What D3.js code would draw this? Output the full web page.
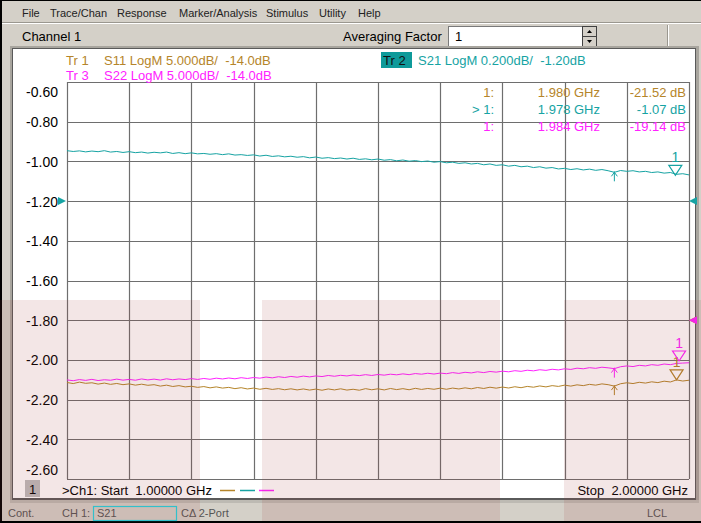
<!DOCTYPE html>
<html><head><meta charset="utf-8">
<script src="https://cdn.jsdelivr.net/npm/d3@7"></script>
<style>
body{margin:0;background:#d4d0c8;overflow:hidden}
text{font-family:"Liberation Sans",Arial,sans-serif;white-space:pre}
</style>
</head><body><svg id="c" width="701" height="523"></svg>
<script>
// ---- data ----
const sweepStart = 1.0, sweepStop = 2.0, sweepPoints = 101;   // GHz
const s21 = [-0.946,-0.950,-0.947,-0.952,-0.948,-0.951,-0.946,-0.953,-0.950,-0.955,
 -0.951,-0.956,-0.953,-0.958,-0.954,-0.957,-0.953,-0.960,-0.956,-0.961,
 -0.957,-0.962,-0.960,-0.964,-0.961,-0.966,-0.962,-0.968,-0.966,-0.970,
 -0.967,-0.973,-0.969,-0.975,-0.972,-0.977,-0.974,-0.979,-0.976,-0.982,
 -0.978,-0.984,-0.981,-0.986,-0.983,-0.988,-0.984,-0.990,-0.987,-0.992,
 -0.988,-0.994,-0.991,-0.997,-0.993,-0.999,-0.996,-1.001,-0.998,-1.004,
 -1.001,-1.007,-1.004,-1.010,-1.007,-1.013,-1.010,-1.017,-1.013,-1.020,
 -1.017,-1.024,-1.020,-1.027,-1.024,-1.031,-1.027,-1.034,-1.031,-1.038,
 -1.035,-1.041,-1.037,-1.043,-1.039,-1.045,-1.041,-1.047,-1.055,-1.046,
 -1.050,-1.047,-1.053,-1.050,-1.056,-1.053,-1.059,-1.056,-1.065,-1.062,-1.068];
const s11 = [-21.85,-21.98,-21.80,-21.95,-21.88,-22.05,-21.92,-22.08,-21.97,-22.12,
 -22.02,-22.18,-22.06,-22.20,-22.12,-22.30,-22.18,-22.35,-22.24,-22.40,
 -22.32,-22.46,-22.36,-22.52,-22.40,-22.55,-22.46,-22.62,-22.50,-22.66,
 -22.55,-22.70,-22.58,-22.72,-22.62,-22.76,-22.64,-22.78,-22.66,-22.80,
 -22.68,-22.82,-22.66,-22.78,-22.64,-22.80,-22.70,-22.82,-22.62,-22.76,
 -22.64,-22.78,-22.60,-22.74,-22.62,-22.76,-22.58,-22.72,-22.60,-22.70,
 -22.56,-22.70,-22.55,-22.66,-22.52,-22.64,-22.48,-22.60,-22.44,-22.56,
 -22.42,-22.54,-22.38,-22.50,-22.34,-22.44,-22.28,-22.40,-22.24,-22.34,
 -22.18,-22.30,-22.14,-22.24,-22.08,-22.18,-22.02,-22.12,-22.30,-22.00,
 -21.88,-21.98,-21.82,-21.92,-21.76,-21.86,-21.68,-21.78,-21.52,-21.66,-21.56];
const s22 = [-21.52,-21.62,-21.48,-21.58,-21.45,-21.60,-21.50,-21.56,-21.42,-21.55,
 -21.46,-21.56,-21.40,-21.52,-21.42,-21.54,-21.38,-21.50,-21.40,-21.48,
 -21.36,-21.46,-21.34,-21.44,-21.30,-21.40,-21.28,-21.38,-21.24,-21.34,
 -21.22,-21.30,-21.16,-21.26,-21.12,-21.22,-21.08,-21.18,-21.04,-21.14,
 -21.02,-21.10,-20.96,-21.06,-20.94,-21.02,-20.90,-20.98,-20.86,-20.96,
 -20.84,-20.92,-20.80,-20.88,-20.76,-20.86,-20.72,-20.80,-20.68,-20.78,
 -20.66,-20.74,-20.60,-20.70,-20.56,-20.64,-20.50,-20.60,-20.46,-20.54,
 -20.42,-20.50,-20.36,-20.44,-20.30,-20.38,-20.24,-20.32,-20.18,-20.26,
 -20.12,-20.20,-20.04,-20.12,-19.98,-20.06,-19.92,-20.00,-20.10,-19.86,
 -19.76,-19.84,-19.68,-19.76,-19.60,-19.68,-19.52,-19.60,-19.44,-19.40,-19.36];
const yTicks = [-0.60,-0.80,-1.00,-1.20,-1.40,-1.60,-1.80,-2.00,-2.20,-2.40,-2.60];
const yTickLabels = ["-0.60","-0.80","-1.00","-1.20","-1.40","-1.60","-1.80","-2.00","-2.20","-2.40","-2.60"];
const xGrid = [1.0,1.1,1.2,1.3,1.4,1.5,1.6,1.7,1.8,1.9,2.0];
const menuItems = ["File","Trace/Chan","Response","Marker/Analysis","Stimulus","Utility","Help"];
const markerFreqs = {s11:1.980, s21:1.978, s22:1.984};
const markerVals  = {s11:-21.52, s21:-1.07, s22:-19.14};
const refMarkerFreq = 1.88;
const refLevels = {s11:-14.0, s21:-1.20, s22:-14.0};
const scalePerDiv = {s11:5.0, s21:0.2, s22:5.0};

// ---- style ----
const C = {s11:"#b5852a", s21:"#16a3a3", s22:"#ff22ff", grid:"#6e6e6e", gray:"#d4d0c8"};
const svg = d3.select("#c");
const freqs = d3.range(sweepPoints).map(i => sweepStart + i*(sweepStop-sweepStart)/(sweepPoints-1));

// background, frame
svg.append("rect").attr("width",701).attr("height",523).attr("fill",C.gray);
svg.append("rect").attr("x",0).attr("y",0).attr("width",701).attr("height",1).attr("fill","#000");
svg.append("rect").attr("x",0).attr("y",0).attr("width",2).attr("height",523).attr("fill","#000");
svg.append("rect").attr("x",0).attr("y",521).attr("width",701).attr("height",2).attr("fill","#000");

// menu
const menuX = [22,50,117,179,266,319,358];
svg.selectAll("text.menu").data(menuItems).enter().append("text")
  .attr("x",(d,i)=>menuX[i]).attr("y",17).attr("font-size",11).attr("fill","#222").text(d=>d);
svg.append("line").attr("x1",2).attr("x2",701).attr("y1",22.5).attr("y2",22.5).attr("stroke","#9a978f");
svg.append("line").attr("x1",2).attr("x2",701).attr("y1",23.5).attr("y2",23.5).attr("stroke","#fff");

// toolbar
svg.append("text").attr("x",22).attr("y",41).attr("font-size",13).attr("fill","#000").text("Channel 1");
svg.append("text").attr("x",343).attr("y",41).attr("font-size",13).attr("fill","#000").text("Averaging Factor");
svg.append("rect").attr("x",448.5).attr("y",26.5).attr("width",134).attr("height",20).attr("fill","#fff").attr("stroke","#7a7a7a");
svg.append("text").attr("x",455).attr("y",41).attr("font-size",13).attr("fill","#000").text("1");
svg.append("rect").attr("x",582.5).attr("y",26.5).attr("width",14).attr("height",10).attr("fill",C.gray).attr("stroke","#404040");
svg.append("rect").attr("x",582.5).attr("y",36.5).attr("width",14).attr("height",10).attr("fill",C.gray).attr("stroke","#404040");
svg.append("path").attr("d","M587,33 L592,33 L589.5,30 Z").attr("fill","#000");
svg.append("path").attr("d","M587,40 L592,40 L589.5,43 Z").attr("fill","#000");
svg.append("line").attr("x1",667.5).attr("x2",667.5).attr("y1",25).attr("y2",46).attr("stroke","#9a978f");
svg.append("line").attr("x1",668.5).attr("x2",668.5).attr("y1",25).attr("y2",46).attr("stroke","#fff");

// chart panel
svg.append("rect").attr("x",10).attr("y",46).attr("width",689).attr("height",457).attr("fill","#a8a59e");
svg.append("rect").attr("x",12).attr("y",48).attr("width",684).attr("height",452).attr("fill","#5a5a5a");
svg.append("rect").attr("x",13).attr("y",49).attr("width",682).attr("height",449).attr("fill","#fff");
svg.append("rect").attr("x",10).attr("y",500).attr("width",689).attr("height",3).attr("fill","#bdbab3");

// scales
const x = d3.scaleLinear().domain([sweepStart,sweepStop]).range([67,689]);
const top0 = 82, bot0 = 479;
const yS21 = d3.scaleLinear().domain([refLevels.s21-7*scalePerDiv.s21, refLevels.s21+3*scalePerDiv.s21]).range([bot0,top0]);
const yS11 = d3.scaleLinear().domain([refLevels.s11-4*scalePerDiv.s11, refLevels.s11+6*scalePerDiv.s11]).range([bot0,top0]);
const yS22 = d3.scaleLinear().domain([refLevels.s22-4*scalePerDiv.s22, refLevels.s22+6*scalePerDiv.s22]).range([bot0,top0]);

// grid
const g = svg.append("g");
g.selectAll("line.h").data(yTicks).enter().append("line")
  .attr("x1",67).attr("x2",689).attr("y1",d=>Math.round(yS21(d))+0.5).attr("y2",d=>Math.round(yS21(d))+0.5)
  .attr("stroke",C.grid).attr("stroke-width",1.2);
g.selectAll("line.v").data(xGrid).enter().append("line")
  .attr("x1",d=>Math.round(x(d))+0.5).attr("x2",d=>Math.round(x(d))+0.5).attr("y1",top0).attr("y2",bot0)
  .attr("stroke",C.grid).attr("stroke-width",1.2);

// y axis labels
const ax = svg.append("g").attr("transform","translate(67,0)")
  .call(d3.axisLeft(yS21).tickValues(yTicks).tickSize(0).tickPadding(9).tickFormat((d,i)=>yTickLabels[i]));
ax.select(".domain").remove();
ax.selectAll("text").attr("font-family","Liberation Sans, Arial, sans-serif").attr("font-size",14).attr("fill","#000")
  .attr("dy",(d,i)=> i===0 ? "1.05em" : (i===yTicks.length-1 ? "-0.35em" : "0.35em"));

// traces
function trace(vals, yScale, color){
  svg.append("path").datum(vals)
    .attr("d", d3.line().x((d,i)=>x(freqs[i])).y(d=>yScale(d)))
    .attr("fill","none").attr("stroke",color).attr("stroke-width",1);
}
trace(s11, yS11, C.s11);
trace(s22, yS22, C.s22);
trace(s21, yS21, C.s21);

// reference marker ticks
function refTick(vals, yScale, color){
  const i = freqs.findIndex(f=>Math.abs(f-refMarkerFreq)<1e-6);
  const px = x(refMarkerFreq), py = yScale(vals[i]);
  svg.append("path").attr("d",`M${px},${py-1} L${px},${py+9} M${px-3},${py+4} L${px},${py} L${px+3},${py+4}`)
    .attr("stroke",color).attr("fill","none").attr("stroke-width",1);
}
refTick(s11, yS11, C.s11); refTick(s22, yS22, C.s22); refTick(s21, yS21, C.s21);

// marker triangles
function marker(key, yScale, color){
  const px = x(markerFreqs[key]), py = yScale(markerVals[key]);
  svg.append("path").attr("d",`M${px},${py} L${px-6.5},${py-10} L${px+6.5},${py-10} Z`)
    .attr("fill","none").attr("stroke",color).attr("stroke-width",1.2);
  svg.append("text").attr("x",px).attr("y",py-13).attr("text-anchor","middle").attr("font-size",14).attr("fill",color).text("1");
}
marker("s11", yS11, C.s11);
marker("s22", yS22, C.s22);
marker("s21", yS21, C.s21);

// reference level arrows
function refArrow(yv, color, left){
  if(left) svg.append("path").attr("d",`M58,${yv-4} L66,${yv} L58,${yv+4} Z`).attr("fill",color);
  svg.append("path").attr("d",`M697,${yv-4} L689,${yv} L697,${yv+4} Z`).attr("fill",color);
}
refArrow(yS11(refLevels.s11), C.s11, false);
refArrow(yS22(refLevels.s22), C.s22, false);
refArrow(yS21(refLevels.s21), C.s21, true);

// trace headers
svg.append("text").attr("x",66).attr("y",65).attr("font-size",13).attr("fill",C.s11).text("Tr 1");
svg.append("text").attr("x",104).attr("y",65).attr("font-size",13).attr("fill",C.s11)
  .text("S11 LogM " + scalePerDiv.s11.toFixed(3) + "dB/  " + refLevels.s11.toFixed(1) + "dB");
svg.append("text").attr("x",66).attr("y",80).attr("font-size",13).attr("fill",C.s22).text("Tr 3");
svg.append("text").attr("x",104).attr("y",80).attr("font-size",13).attr("fill",C.s22)
  .text("S22 LogM " + scalePerDiv.s22.toFixed(3) + "dB/  " + refLevels.s22.toFixed(1) + "dB");
svg.append("rect").attr("x",381).attr("y",52).attr("width",31).attr("height",16).attr("fill","#0e9a9a");
svg.append("text").attr("x",383).attr("y",65).attr("font-size",13).attr("fill","#111").text("Tr 2");
svg.append("text").attr("x",418).attr("y",65).attr("font-size",13).attr("fill",C.s21)
  .text("S21 LogM " + scalePerDiv.s21.toFixed(3) + "dB/  " + refLevels.s21.toFixed(2) + "dB");

// marker readouts
const rows = [["s11","1:",97],["s21","> 1:",114],["s22","1:",131]];
rows.forEach(([k,lab,yy])=>{
  svg.append("text").attr("x",494).attr("y",yy).attr("text-anchor","end").attr("font-size",13).attr("fill",C[k]).text(lab);
  svg.append("text").attr("x",600).attr("y",yy).attr("text-anchor","end").attr("font-size",13).attr("fill",C[k]).text(markerFreqs[k].toFixed(3)+" GHz");
  svg.append("text").attr("x",686).attr("y",yy).attr("text-anchor","end").attr("font-size",13).attr("fill",C[k]).text(markerVals[k].toFixed(2)+" dB");
});

// bottom of chart
svg.append("rect").attr("x",25).attr("y",480).attr("width",15).attr("height",17).attr("fill","#bdbdbd");
svg.append("text").attr("x",29).attr("y",494).attr("font-size",13).attr("fill","#000").text("1");
svg.append("text").attr("x",62).attr("y",495).attr("font-size",13).attr("fill","#000").text(">Ch1: Start  " + sweepStart.toFixed(5) + " GHz");
[[C.s11,220],[C.s21,240],[C.s22,259]].forEach(([c,x0])=>{
  svg.append("line").attr("x1",x0).attr("x2",x0+15).attr("y1",490.5).attr("y2",490.5).attr("stroke",c).attr("stroke-width",1.5);
});
svg.append("text").attr("x",688).attr("y",495).attr("text-anchor","end").attr("font-size",13).attr("fill","#000").text("Stop  " + sweepStop.toFixed(5) + " GHz");

// status bar
svg.append("text").attr("x",8).attr("y",517).attr("font-size",11).attr("fill","#555").text("Cont.");
svg.append("text").attr("x",62).attr("y",517).attr("font-size",11).attr("fill","#555").text("CH 1:");
svg.append("rect").attr("x",93.5).attr("y",506.5).attr("width",83).attr("height",14).attr("fill","none").attr("stroke","#22d4e0").attr("stroke-width",1.2);
svg.append("text").attr("x",97).attr("y",517).attr("font-size",11).attr("fill","#555").text("S21");
svg.append("text").attr("x",181).attr("y",517).attr("font-size",11).attr("fill","#555").text("CΔ 2-Port");
svg.append("text").attr("x",647).attr("y",517).attr("font-size",11).attr("fill","#555").text("LCL");

// pinkish overlay bands
[[0,200],[262,500],[564,701]].forEach(([a,b])=>{
  svg.append("rect").attr("x",a).attr("y",300).attr("width",b-a).attr("height",221).attr("fill","rgb(160,60,60)").attr("fill-opacity",0.13);
});
</script></body></html>
